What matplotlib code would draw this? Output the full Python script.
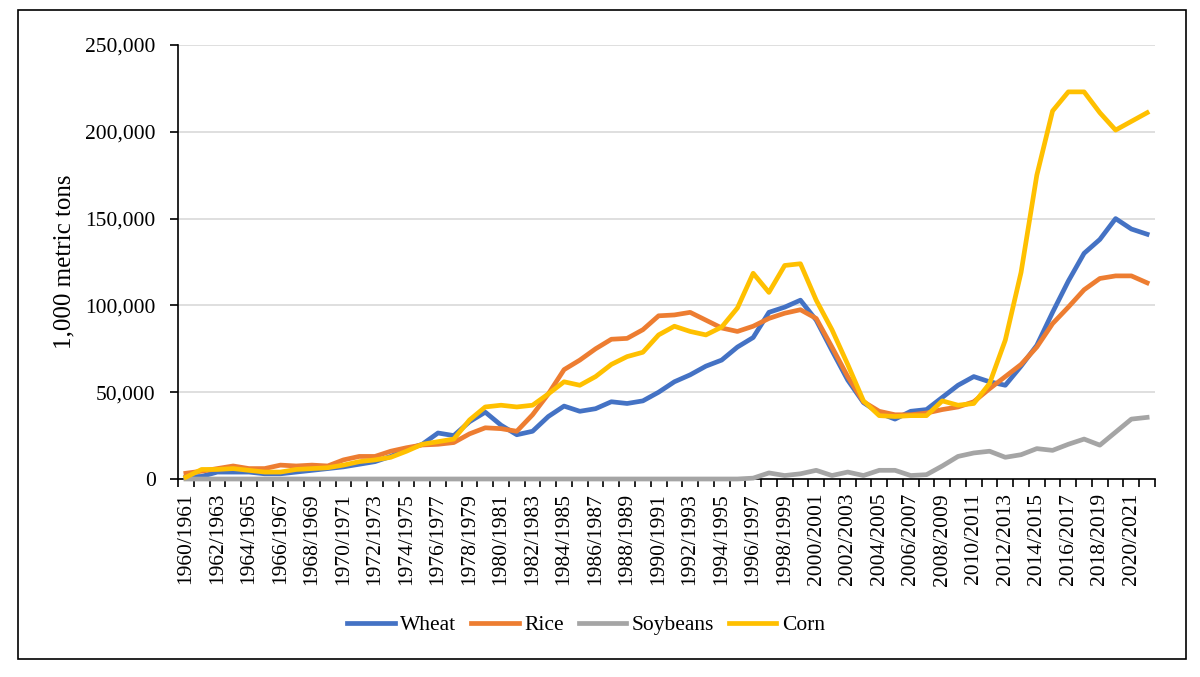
import numpy as np
import matplotlib
matplotlib.use('Agg')
import matplotlib.pyplot as plt
from matplotlib.patches import Rectangle
from matplotlib.ticker import FuncFormatter

plt.rcParams['font.family'] = ['Liberation Serif', 'DejaVu Serif']

years = [f"{y}/{y + 1}" for y in range(1960, 2022)]

# values in 1,000 metric tons
wheat = [1, 1.5, 4, 4, 4, 3, 3, 4, 5, 6,
         7, 8.5, 10, 13, 17, 20, 26.5, 25, 33, 38.5,
         31, 25.5, 27.5, 36, 42, 39, 40.5, 44.5, 43.5, 45,
         50, 56, 60, 65, 68.5, 76, 81.5, 96, 99, 103,
         91.5, 74, 57, 44, 38, 34.5, 39, 40, 47, 54,
         59, 56, 54, 65, 77, 96, 114, 130, 138, 150,
         144, 141]
rice = [3.3, 4.5, 6, 7.5, 6, 6, 8, 7.5, 8, 7.5,
        11, 13, 13, 16, 18, 19.6, 20, 21, 26, 29.5,
        29, 27.5, 37, 49, 63, 68.5, 75, 80.5, 81, 86,
        94, 94.5, 96, 91.5, 87, 85, 88, 92.5, 95.5, 97.5,
        92.5, 76, 59, 44.5, 39, 37, 37, 38, 40, 41.5,
        44.5, 52, 59, 66, 76, 89.5, 99, 109, 115.5, 117,
        117, 113]
soybeans = [0] * 36 + [0.5, 3.5, 2, 3,
                       5, 2, 4, 2, 5, 5, 2, 2.5, 7.5, 13,
                       15, 16, 12.5, 14, 17.5, 16.5, 20, 23, 19.5, 27,
                       34.5, 35.5]
corn = [1, 5.5, 5.5, 6, 5, 4, 4, 5.5, 6, 6.5,
        8, 10, 11, 12.5, 16, 20, 21.5, 23, 34, 41.5,
        42.5, 41.5, 42.5, 49, 56, 54, 59, 66, 70.5, 73,
        83, 88, 85, 83, 87.5, 98.5, 118.5, 107.5, 123, 124,
        103, 86, 66, 45, 36.5, 36, 36.5, 36.5, 45, 42.5,
        43.5, 55, 80, 119, 175, 212, 223, 223, 211, 201,
        206, 211]

series = [('Wheat', wheat, '#4472C4'),
          ('Rice', rice, '#ED7D31'),
          ('Soybeans', soybeans, '#A5A5A5'),
          ('Corn', corn, '#FFC000')]

fig = plt.figure(figsize=(12, 6.77), dpi=100)
ax = fig.add_axes([178 / 1200, 1 - 479 / 677, 977 / 1200, 434 / 677])

x = np.arange(len(years))
for name, vals, color in series:
    ax.plot(x, np.array(vals) * 1000, color=color, lw=3.4, label=name,
            zorder=3, clip_on=False, solid_joinstyle='round')

ax.set_xlim(-0.5, len(years) - 0.5)
ax.set_ylim(0, 250000)
ax.set_yticks(np.arange(0, 250001, 50000))
ax.yaxis.set_major_formatter(FuncFormatter(lambda v, p: f"{int(v):,}"))
ax.grid(axis='y', color='#D9D9D9', lw=1.2, zorder=0)

# ticks between categories, labels on every other category
ax.set_xticks(np.arange(-0.5, len(years)))
ax.set_xticklabels([])
ax.set_xticks(x[::2], minor=True)
ax.set_xticklabels(years[::2], minor=True, rotation=90)
ax.tick_params(axis='x', which='major', length=6, width=1.2, direction='out')
ax.tick_params(axis='x', which='minor', length=0, pad=10, labelsize=15.5)
ax.tick_params(axis='y', length=6, width=1.2, pad=10, labelsize=15.5)

for s in ['top', 'right']:
    ax.spines[s].set_visible(False)
for s in ['left', 'bottom']:
    ax.spines[s].set_linewidth(1.2)
    ax.spines[s].set_color('black')

ax.set_ylabel('1,000 metric tons', fontsize=18, labelpad=7)

fig.legend(loc='center', bbox_to_anchor=(586 / 1200, 1 - 625 / 677), ncol=4,
           frameon=False, fontsize=15.5, handlelength=2.2, handletextpad=0.25,
           columnspacing=0.7)

fig.patches.append(Rectangle((18 / 1200, 1 - 659 / 677), 1168 / 1200, 649 / 677,
                             transform=fig.transFigure, fill=False,
                             edgecolor='black', lw=1.2))

fig.savefig('out.png', dpi=100)
